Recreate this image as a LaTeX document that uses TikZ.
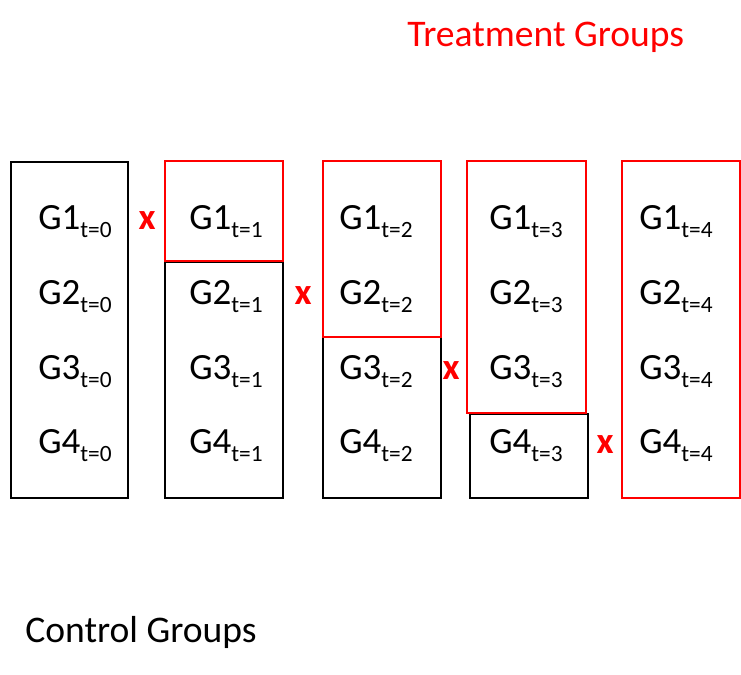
\documentclass[tikz,border=0pt]{standalone}
\usepackage{fontspec}
\setmainfont{Carlito}
\newcommand\gsub[1]{\raisebox{-6pt}{\fontsize{17.5pt}{19pt}\selectfont #1}}
\tikzset{
  box/.style={draw=black,line width=1.5pt},
  tbox/.style={draw=red,line width=1.5pt},
  lbl/.style={inner sep=0pt,anchor=base west,font=\fontsize{27.75pt}{32pt}\selectfont},
  cross/.style={inner sep=0pt,anchor=base,text=red,font=\fontsize{27.75pt}{32pt}\selectfont\bfseries},
  title/.style={inner sep=0pt,anchor=base west,font=\fontsize{28.2pt}{32pt}\selectfont}
}
\begin{document}
\begin{tikzpicture}[x=0.75pt,y=-0.75pt]
\useasboundingbox (0,0) rectangle (741,674);
% column 0
\draw[box] (11,162) rectangle (128,498);
% column 1
\draw[box] (165,262) rectangle (283,498);
\draw[tbox] (165,161) rectangle (283,261);
% column 2
\draw[box] (323,337) rectangle (441,498);
\draw[tbox] (323,161) rectangle (441,337);
% column 3
\draw[box] (470,414) rectangle (588,498);
\draw[tbox] (467,161) rectangle (586,413);
% column 4
\draw[tbox] (622,161) rectangle (740,498);

% labels
\foreach \c/\x in {0/38,1/189,2/339,3/489,4/639}{
  \foreach \r/\y in {1/229,2/304,3/379,4/453}{
    \node[lbl] (g\r\c) at (\x,\y) {G\r\gsub{t=\c}};
  }
}
% crosses
\node[cross] (x1) at (147,229) {x};
\node[cross] (x2) at (303,304) {x};
\node[cross] (x3) at (451,379) {x};
\node[cross] (x4) at (605,453) {x};

\node[title,text=red] (treat) at (407,46) {Treatment Groups};
\node[title] (ctrl) at (25,642) {Control Groups};
\end{tikzpicture}
\end{document}
